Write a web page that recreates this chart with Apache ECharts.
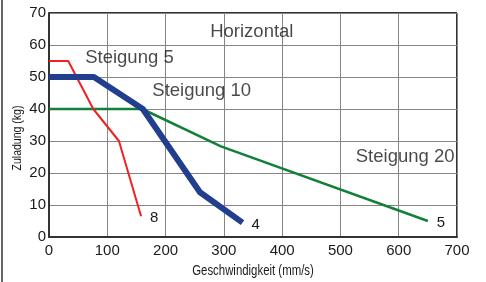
<!DOCTYPE html>
<html lang="de">
<head>
    <meta charset="UTF-8">
    <title>Zuladung vs Geschwindigkeit</title>
    <script src="https://cdn.jsdelivr.net/npm/echarts/dist/echarts.min.js"></script>
    <style>
        html, body { margin: 0; padding: 0; background: #fff; }
    </style>
</head>
<body>
    <div id="main" style="width: 486px; height: 282px;"></div>

    <script>
        // Kurven: [Geschwindigkeit mm/s, Zuladung kg]
        var steigung20 = [[0, 55], [33, 55], [76, 40], [120, 30], [158, 6.5]];   // rot, Ende "8"
        var steigung10 = [[0, 50], [77, 50], [161, 40], [259, 14], [332, 4.5]];  // blau, Ende "4"
        var horizontal = [[0, 40], [160, 40], [295, 28.3], [650, 5]];           // grün, Ende "5"

        var endLabels = ['8', '4', '5'];

        // Beschriftungen im Diagramm: [x, y, text]
        var notes = [
            [348, 64, 'Horizontal'],
            [138, 56, 'Steigung 5'],
            [262, 45.6, 'Steigung 10'],
            [611, 25, 'Steigung 20']
        ];

        var xTicks = [0, 100, 200, 300, 400, 500, 600, 700];
        var yTicks = [0, 10, 20, 30, 40, 50, 60, 70];

        var chart = echarts.init(document.getElementById('main'));
        var font = '"Liberation Sans", Arial, sans-serif';

        function lineSeries(data, color, width, label) {
            return {
                type: 'line',
                data: data,
                symbol: 'none',
                silent: true,
                lineStyle: { color: color, width: width, cap: 'butt', join: 'round' },
                endLabel: {
                    show: true,
                    formatter: label,
                    color: '#1a1a1a',
                    fontSize: 15,
                    fontFamily: font,
                    distance: 9,
                    offset: [0, 2]
                }
            };
        }

        var option = {
            animation: false,
            backgroundColor: '#fff',
            grid: { left: 49, right: 29, top: 13, bottom: 45, outerBoundsMode: 'none' },
            xAxis: {
                type: 'value',
                min: xTicks[0],
                max: xTicks[xTicks.length - 1],
                interval: 100,
                axisLine: { show: true, lineStyle: { color: '#333', width: 2 } },
                axisTick: { show: false },
                axisLabel: { color: '#1a1a1a', fontSize: 15, fontFamily: font, margin: 6 },
                splitLine: { show: true, lineStyle: { color: '#858585', width: 1 } }
            },
            yAxis: {
                type: 'value',
                min: yTicks[0],
                max: yTicks[yTicks.length - 1],
                interval: 10,
                axisLine: { show: true, lineStyle: { color: '#333', width: 2 } },
                axisTick: { show: false },
                axisLabel: { color: '#1a1a1a', fontSize: 15, fontFamily: font, margin: 3 },
                splitLine: { show: true, lineStyle: { color: '#858585', width: 1 } }
            },
            series: [
                lineSeries(horizontal, '#128038', 2.5, endLabels[2]),
                lineSeries(steigung20, '#ee2222', 2, endLabels[0]),
                lineSeries(steigung10, '#223f8f', 6, endLabels[1]),
                {
                    type: 'scatter',
                    data: notes,
                    symbolSize: 0,
                    silent: true,
                    label: {
                        show: true,
                        position: 'inside',
                        formatter: function (p) { return p.data[2]; },
                        color: '#1a1a1a',
                        fontSize: 18.5,
                        fontFamily: font
                    }
                }
            ],
            graphic: [
                // Rahmen der Plotfläche oben und rechts
                { type: 'line', shape: { x1: 49, y1: 13, x2: 457, y2: 13 }, style: { stroke: '#333', lineWidth: 2 } },
                { type: 'line', shape: { x1: 457, y1: 13, x2: 457, y2: 237 }, style: { stroke: '#333', lineWidth: 2 } },
                // linker Rand des Bildes
                { type: 'line', shape: { x1: 2, y1: 0, x2: 2, y2: 282 }, style: { stroke: '#333', lineWidth: 1.5 } },
                // Achsentitel (schmal gesetzt wie im Original)
                {
                    type: 'text', x: 253, y: 271, scaleX: 0.76,
                    style: {
                        text: 'Geschwindigkeit (mm/s)', fill: '#1a1a1a', font: '15px ' + font,
                        align: 'center', verticalAlign: 'middle'
                    }
                },
                {
                    type: 'text', x: 17, y: 138, rotation: Math.PI / 2, scaleX: 0.78,
                    style: {
                        text: 'Zuladung (kg)', fill: '#1a1a1a', font: '13.5px ' + font,
                        align: 'center', verticalAlign: 'middle'
                    }
                }
            ]
        };

        chart.setOption(option);
    </script>
</body>
</html>
